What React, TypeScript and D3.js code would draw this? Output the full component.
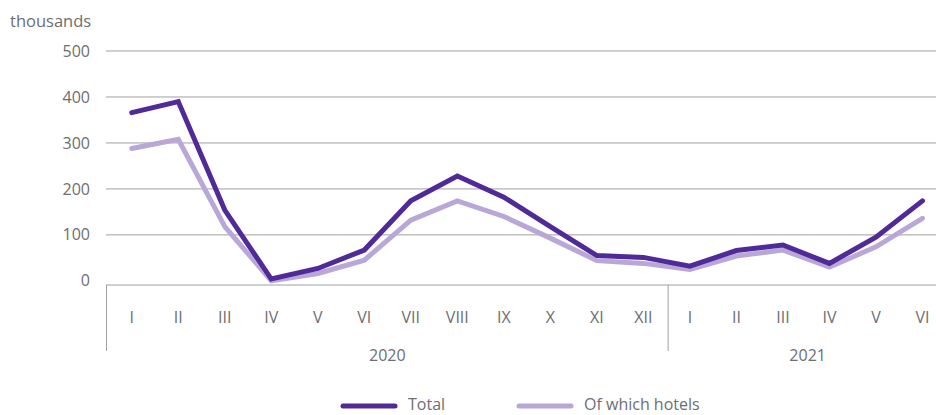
import React from "react";
import * as d3 from "d3";

const months = ["I","II","III","IV","V","VI","VII","VIII","IX","X","XI","XII","I","II","III","IV","V","VI"];
const years = ["2020", "2021"];
const yearStarts = [0, 12];
const yearEnds = [12, 18];
const totalValues = [366, 390, 154, 4, 27, 67, 174, 228, 182, 118, 55, 51, 32, 66, 78, 38, 95, 174];
const hotelValues = [288, 308, 118, 0, 16, 45, 132, 174, 140, 93, 44, 38, 25, 54, 67, 30, 74, 136];
const yTicks = [0, 100, 200, 300, 400, 500];
const seriesNames = ["Total", "Of which hotels"];

const W = 936;
const H = 415;
const TEXT = "#6d6e71";
const GRID = "#a0a0a0";
const DARK = "#4f2a98";
const LIGHT = "#b9a7d7";
const FONT = "'Open Sans', 'Noto Sans', sans-serif";

export default function App() {
  const x = d3.scaleBand<number>().domain(d3.range(18)).range([108.5, 945.7]).paddingInner(0).paddingOuter(0);
  const bw = x.bandwidth();
  const cx = (i: number) => (x(i) as number) + bw / 2;
  const y = d3.scaleLinear().domain([-9, 500]).range([285, 51]);
  const boundary = (i: number) =>
    i === 0 ? 106.5 : i >= 18 ? (x(17) as number) + bw + 1.5 : (x(i) as number) + 1.5;

  const line = d3.line<number>().x((_, i) => cx(i)).y((d) => y(d));

  return (
    <svg width={W} height={H} style={{ position: "absolute", left: 0, top: 0 }} fontFamily={FONT}>
      <text x={10} y={27} fontSize={16.5} fill={TEXT}>thousands</text>
      {yTicks.map((t) => (
        <g key={t}>
          {t > 0 && <line x1={106} x2={W} y1={y(t)} y2={y(t)} stroke={GRID} strokeWidth={1} />}
          <text x={90} y={y(t)} dy="0.35em" textAnchor="end" fontSize={16} fill={TEXT}>{t}</text>
        </g>
      ))}
      <line x1={106} x2={W} y1={285} y2={285} stroke={GRID} strokeWidth={1} />
      {yearStarts.map((s, k) => (
        <g key={k}>
          <line x1={boundary(s)} x2={boundary(s)} y1={285} y2={351} stroke={GRID} strokeWidth={1} />
          <text
            x={(boundary(s) + boundary(yearEnds[k])) / 2}
            y={361}
            textAnchor="middle"
            fontSize={16}
            fill={TEXT}
          >
            {years[k]}
          </text>
        </g>
      ))}
      {months.map((m, i) => (
        <text key={i} x={cx(i)} y={323} textAnchor="middle" fontSize={16} fill={TEXT}>{m}</text>
      ))}
      <path d={line(hotelValues) || ""} fill="none" stroke={LIGHT} strokeWidth={5} strokeLinecap="round" strokeLinejoin="miter" />
      <path d={line(totalValues) || ""} fill="none" stroke={DARK} strokeWidth={5} strokeLinecap="round" strokeLinejoin="miter" />
      <g>
        <line x1={343} x2={395} y1={406} y2={406} stroke={DARK} strokeWidth={5} strokeLinecap="round" />
        <text x={408} y={410} fontSize={16} fill={TEXT}>{seriesNames[0]}</text>
        <line x1={519} x2={571} y1={406} y2={406} stroke={LIGHT} strokeWidth={5} strokeLinecap="round" />
        <text x={584} y={410} fontSize={16} fill={TEXT}>{seriesNames[1]}</text>
      </g>
    </svg>
  );
}
